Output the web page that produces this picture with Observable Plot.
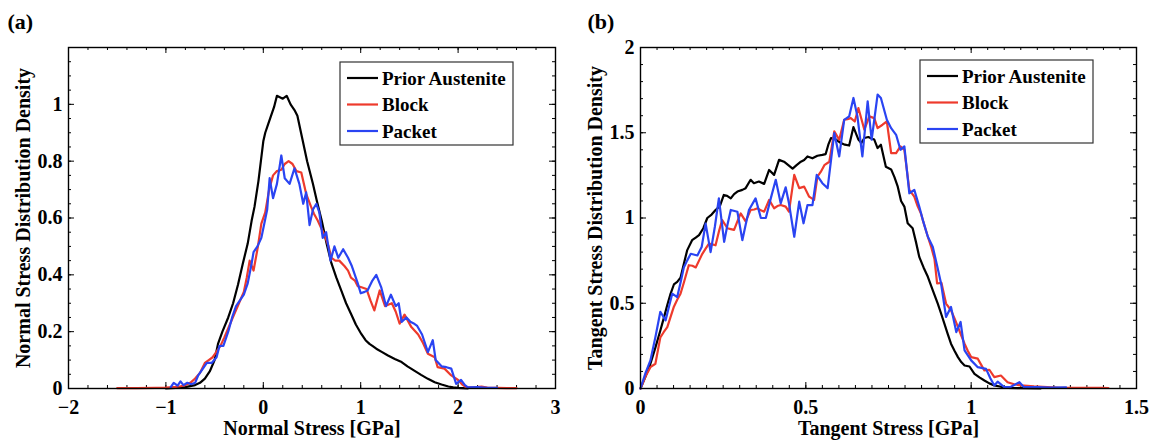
<!DOCTYPE html>
<html>
<head>
<meta charset="utf-8">
<script src="https://cdn.jsdelivr.net/npm/d3@7"></script>
<script src="https://cdn.jsdelivr.net/npm/@observablehq/plot@0.6"></script>
<style>
  html, body { margin: 0; padding: 0; background: #fff; }
  #charts { display: flex; width: 1153px; height: 442px; overflow: hidden; }
</style>
</head>
<body>
<div id="charts"></div>
<script>
// Legend entries and line colours shared by both panels
const seriesNames = ["Prior Austenite", "Block", "Packet"];
const seriesColors = ["#000000", "#ee3a2c", "#2a44f2"];

// (a) normal stress distribution density, [stress GPa, density]
const normalPrior = [[-1.0,0],[-0.9,0.002],[-0.8,0.005],[-0.7,0.012],[-0.65,0.02],[-0.6,0.035],[-0.55,0.06],[-0.5,0.1],[-0.465,0.157],[-0.42,0.2],[-0.36,0.25],[-0.31,0.3],[-0.26,0.365],[-0.21,0.44],[-0.16,0.51],[-0.12,0.59],[-0.09,0.64],[-0.05,0.73],[0.0,0.87],[0.02,0.9],[0.05,0.93],[0.08,0.96],[0.11,0.99],[0.14,1.03],[0.17,1.025],[0.2,1.02],[0.24,1.03],[0.28,1.0],[0.32,0.98],[0.35,0.96],[0.4,0.88],[0.45,0.8],[0.51,0.72],[0.55,0.66],[0.6,0.59],[0.65,0.51],[0.7,0.44],[0.75,0.39],[0.8,0.345],[0.85,0.3],[0.9,0.263],[0.95,0.225],[1.006,0.192],[1.05,0.17],[1.09,0.157],[1.12,0.15],[1.16,0.14],[1.22,0.128],[1.28,0.116],[1.35,0.104],[1.42,0.093],[1.48,0.078],[1.55,0.063],[1.62,0.048],[1.69,0.034],[1.76,0.022],[1.83,0.014],[1.9,0.007],[1.95,0.004],[2.0,0.002],[2.05,0.001],[2.1,0]];
const normalBlock = [[-1.5,0.001],[-1.3,0.001],[-1.1,0.002],[-1.0,0.003],[-0.9,0.006],[-0.85,0.008],[-0.8,0.012],[-0.75,0.02],[-0.7,0.035],[-0.65,0.055],[-0.6,0.09],[-0.56,0.1],[-0.52,0.11],[-0.48,0.13],[-0.44,0.15],[-0.4,0.18],[-0.35,0.22],[-0.3,0.26],[-0.25,0.3],[-0.2,0.34],[-0.17,0.39],[-0.14,0.45],[-0.1,0.415],[-0.055,0.5],[-0.02,0.58],[0.02,0.62],[0.06,0.7],[0.1,0.75],[0.14,0.765],[0.185,0.77],[0.22,0.79],[0.26,0.8],[0.3,0.79],[0.34,0.765],[0.39,0.76],[0.44,0.685],[0.49,0.64],[0.52,0.615],[0.56,0.59],[0.6,0.56],[0.63,0.54],[0.67,0.5],[0.7,0.46],[0.74,0.45],[0.78,0.45],[0.835,0.43],[0.87,0.415],[0.9,0.39],[0.94,0.38],[0.97,0.36],[1.0,0.357],[1.06,0.35],[1.1,0.31],[1.14,0.275],[1.195,0.345],[1.25,0.29],[1.32,0.3],[1.36,0.27],[1.4,0.228],[1.45,0.26],[1.52,0.216],[1.59,0.19],[1.64,0.16],[1.69,0.122],[1.76,0.11],[1.79,0.075],[1.86,0.07],[1.93,0.046],[2.0,0.03],[2.04,0.015],[2.08,0.005],[2.16,0.004],[2.24,0.007],[2.3,0.003],[2.4,0.002],[2.5,0.001],[2.6,0.001]];
const normalPacket = [[-0.95,0.005],[-0.92,0.02],[-0.88,0.01],[-0.85,0.025],[-0.82,0.012],[-0.78,0.02],[-0.74,0.015],[-0.7,0.02],[-0.67,0.045],[-0.62,0.07],[-0.58,0.09],[-0.53,0.09],[-0.48,0.11],[-0.45,0.15],[-0.41,0.15],[-0.36,0.2],[-0.32,0.25],[-0.28,0.29],[-0.24,0.31],[-0.2,0.33],[-0.16,0.37],[-0.12,0.44],[-0.1,0.48],[-0.06,0.5],[-0.02,0.53],[0.01,0.58],[0.04,0.63],[0.065,0.74],[0.1,0.67],[0.14,0.72],[0.185,0.82],[0.22,0.74],[0.27,0.72],[0.32,0.775],[0.37,0.72],[0.41,0.65],[0.44,0.69],[0.475,0.575],[0.51,0.63],[0.545,0.65],[0.575,0.62],[0.61,0.53],[0.645,0.55],[0.69,0.45],[0.73,0.5],[0.77,0.46],[0.82,0.49],[0.87,0.46],[0.91,0.43],[0.94,0.4],[0.97,0.37],[1.0,0.335],[1.04,0.34],[1.07,0.345],[1.12,0.38],[1.16,0.4],[1.21,0.357],[1.26,0.29],[1.31,0.33],[1.36,0.29],[1.39,0.3],[1.42,0.234],[1.47,0.25],[1.51,0.235],[1.54,0.23],[1.58,0.22],[1.63,0.19],[1.69,0.128],[1.74,0.17],[1.77,0.1],[1.83,0.078],[1.88,0.075],[1.93,0.07],[1.98,0.016],[2.03,0.03],[2.07,0.012],[2.1,0.004],[2.2,0.005],[2.3,0.002],[2.4,0.002]];

// (b) tangent stress distribution density, [stress GPa, density]
const tangentPrior = [[0,0],[0.015,0.07],[0.03,0.145],[0.045,0.24],[0.06,0.34],[0.07,0.41],[0.081,0.49],[0.09,0.55],[0.101,0.61],[0.111,0.625],[0.121,0.65],[0.131,0.73],[0.141,0.81],[0.156,0.87],[0.167,0.885],[0.177,0.9],[0.19,0.94],[0.202,1.0],[0.215,1.02],[0.227,1.047],[0.24,1.07],[0.252,1.135],[0.262,1.13],[0.273,1.115],[0.283,1.14],[0.293,1.155],[0.308,1.165],[0.318,1.175],[0.333,1.224],[0.343,1.204],[0.358,1.214],[0.374,1.2],[0.389,1.282],[0.404,1.253],[0.419,1.341],[0.434,1.33],[0.447,1.31],[0.46,1.29],[0.472,1.31],[0.485,1.33],[0.495,1.34],[0.505,1.361],[0.52,1.35],[0.535,1.365],[0.55,1.37],[0.56,1.375],[0.568,1.43],[0.576,1.469],[0.591,1.46],[0.606,1.44],[0.618,1.43],[0.631,1.425],[0.644,1.533],[0.659,1.46],[0.668,1.44],[0.677,1.469],[0.689,1.475],[0.7,1.465],[0.707,1.46],[0.717,1.41],[0.727,1.43],[0.742,1.3],[0.758,1.285],[0.768,1.24],[0.778,1.184],[0.788,1.1],[0.798,1.067],[0.808,0.969],[0.823,0.94],[0.833,0.86],[0.843,0.772],[0.856,0.71],[0.869,0.655],[0.884,0.575],[0.899,0.498],[0.909,0.44],[0.919,0.38],[0.929,0.32],[0.939,0.263],[0.95,0.22],[0.96,0.184],[0.97,0.155],[0.98,0.135],[0.995,0.129],[1.01,0.086],[1.025,0.065],[1.04,0.047],[1.055,0.03],[1.07,0.018],[1.09,0.01],[1.11,0.004],[1.15,0.002],[1.21,0]];
const tangentBlock = [[0,0],[0.015,0.07],[0.03,0.125],[0.045,0.145],[0.06,0.3],[0.07,0.33],[0.081,0.36],[0.091,0.42],[0.101,0.48],[0.111,0.52],[0.121,0.556],[0.131,0.62],[0.146,0.723],[0.157,0.72],[0.167,0.71],[0.177,0.75],[0.187,0.79],[0.197,0.82],[0.207,0.85],[0.217,0.845],[0.227,0.84],[0.237,0.92],[0.247,0.988],[0.263,0.94],[0.273,0.935],[0.283,0.93],[0.293,0.98],[0.303,1.027],[0.318,0.98],[0.333,1.047],[0.344,1.05],[0.354,1.057],[0.364,1.045],[0.374,1.037],[0.389,1.106],[0.404,1.057],[0.414,1.07],[0.424,1.076],[0.439,1.067],[0.449,1.037],[0.465,1.253],[0.48,1.175],[0.495,1.184],[0.51,1.125],[0.525,1.106],[0.535,1.243],[0.545,1.27],[0.556,1.31],[0.571,1.33],[0.586,1.508],[0.601,1.459],[0.616,1.576],[0.626,1.58],[0.636,1.586],[0.648,1.566],[0.659,1.645],[0.677,1.518],[0.692,1.596],[0.707,1.586],[0.717,1.527],[0.732,1.547],[0.745,1.566],[0.758,1.38],[0.773,1.38],[0.786,1.42],[0.798,1.4],[0.813,1.165],[0.828,1.125],[0.838,1.07],[0.848,1.027],[0.858,0.96],[0.869,0.89],[0.879,0.831],[0.889,0.76],[0.897,0.616],[0.91,0.62],[0.924,0.498],[0.939,0.459],[0.95,0.41],[0.96,0.361],[0.97,0.31],[0.98,0.263],[0.99,0.22],[1.0,0.184],[1.01,0.18],[1.02,0.175],[1.03,0.14],[1.04,0.106],[1.055,0.11],[1.07,0.067],[1.09,0.076],[1.11,0.037],[1.13,0.025],[1.15,0.018],[1.19,0.012],[1.23,0.008],[1.27,0.004],[1.33,0.004],[1.394,0.004],[1.415,0.003]];
const tangentPacket = [[0,0],[0.015,0.09],[0.03,0.165],[0.045,0.3],[0.06,0.45],[0.076,0.4],[0.086,0.48],[0.096,0.556],[0.111,0.536],[0.121,0.62],[0.131,0.71],[0.141,0.75],[0.152,0.79],[0.172,0.78],[0.185,0.83],[0.197,0.967],[0.212,0.8],[0.225,0.95],[0.237,1.115],[0.253,0.86],[0.263,0.96],[0.273,1.047],[0.293,1.037],[0.308,0.87],[0.318,0.96],[0.328,1.047],[0.348,1.115],[0.364,1.0],[0.379,1.0],[0.394,1.115],[0.409,1.224],[0.424,1.086],[0.439,1.18],[0.449,1.086],[0.465,0.89],[0.48,1.096],[0.493,0.969],[0.505,1.076],[0.52,1.076],[0.533,1.253],[0.55,1.204],[0.566,1.175],[0.586,1.498],[0.601,1.361],[0.616,1.576],[0.631,1.596],[0.644,1.704],[0.656,1.596],[0.671,1.361],[0.687,1.684],[0.699,1.459],[0.717,1.724],[0.727,1.704],[0.745,1.576],[0.758,1.527],[0.773,1.488],[0.786,1.4],[0.798,1.42],[0.813,1.145],[0.828,1.165],[0.843,1.067],[0.855,0.98],[0.869,0.89],[0.884,0.83],[0.897,0.72],[0.909,0.616],[0.924,0.42],[0.939,0.478],[0.955,0.331],[0.968,0.39],[0.98,0.224],[1.0,0.165],[1.02,0.125],[1.045,0.115],[1.058,0.06],[1.07,0.018],[1.08,0.04],[1.1,0.008],[1.12,0.01],[1.146,0.037],[1.16,0.008],[1.2,0.008],[1.24,0.006],[1.287,0.007]];

// Axis ticks
const normalXTicks = [-2, -1, 0, 1, 2, 3];
const normalYTicks = [0, 0.2, 0.4, 0.6, 0.8, 1];
const tangentXTicks = [0, 0.5, 1, 1.5];
const tangentYTicks = [0, 0.5, 1, 1.5, 2];

const FONT = "'Liberation Serif', 'Times New Roman', serif";
const H = 442, MT = 47, MB = 54;
const fmt = d => (d < 0 ? "\u2212" + Math.abs(d) : String(d));
const steps = (a, b, s) => d3.range(Math.round((b - a) / s) + 1).map(i => +(a + i * s).toFixed(4));

function panel(o) {
  const fw = o.width - o.marginLeft - o.marginRight;
  const fh = H - MT - MB;
  const xMinor = steps(o.xDomain[0], o.xDomain[1], o.xMinorStep);
  const yMinor = steps(o.yDomain[0], o.yDomain[1], o.yMinorStep);
  const tick = {stroke: "#000", strokeWidth: 1};
  const label = {fontSize: 20, fontWeight: "bold", fontFamily: FONT, textAnchor: "middle", lineAnchor: "middle"};
  const svg = Plot.plot({
    width: o.width, height: H,
    marginLeft: o.marginLeft, marginRight: o.marginRight, marginTop: MT, marginBottom: MB,
    style: {fontFamily: FONT, fontWeight: "bold", fontSize: "20px", color: "#000", background: "#fff"},
    x: {domain: o.xDomain},
    y: {domain: o.yDomain},
    marks: [
      // inward ticks on all four sides
      Plot.ruleX(xMinor, {...tick, insetTop: fh - 3}),
      Plot.ruleX(xMinor, {...tick, insetBottom: fh - 3}),
      Plot.ruleX(o.xTicks, {...tick, insetTop: fh - 6}),
      Plot.ruleX(o.xTicks, {...tick, insetBottom: fh - 6}),
      Plot.ruleY(yMinor, {...tick, insetRight: fw - 3}),
      Plot.ruleY(yMinor, {...tick, insetLeft: fw - 3}),
      Plot.ruleY(o.yTicks, {...tick, insetRight: fw - 6}),
      Plot.ruleY(o.yTicks, {...tick, insetLeft: fw - 6}),
      Plot.axisX(o.xTicks, {tickSize: 0, tickPadding: 11, tickFormat: fmt, fontSize: 20, fontWeight: "bold", label: null}),
      Plot.axisY(o.yTicks, {tickSize: 0, tickPadding: 6, tickFormat: fmt, fontSize: 20, fontWeight: "bold", label: null}),
      ...o.series.map((s, i) => Plot.line(s, {
        x: d => d[0], y: d => d[1], stroke: seriesColors[i], strokeWidth: 2.2, strokeLinejoin: "round"
      })),
      Plot.frame({stroke: "#000", strokeWidth: 1.4}),
      Plot.text([o.xLabel], {...label, frameAnchor: "bottom", dy: 40}),
      Plot.text([o.yLabel], {...label, frameAnchor: "left", dx: -45, rotate: -90}),
      Plot.text([o.tag], {...label, frameAnchor: "top-left", dx: o.tagDx, dy: -26, textAnchor: "start", fontSize: 22})
    ]
  });

  // legend box in the upper right of the frame
  const lw = 173, lh = 83;
  const lx = o.width - o.marginRight - o.legendRight - lw;
  const ly = MT + o.legendTop;
  const g = d3.select(svg).append("g").attr("transform", `translate(${lx},${ly})`);
  g.append("rect").attr("width", lw).attr("height", lh)
    .attr("fill", "#fff").attr("stroke", "#333").attr("stroke-width", 1.2);
  seriesNames.forEach((name, i) => {
    const ry = 16 + i * 26.5;
    g.append("line").attr("x1", 7).attr("x2", 38).attr("y1", ry).attr("y2", ry)
      .attr("stroke", seriesColors[i]).attr("stroke-width", 2.2);
    g.append("text").attr("x", 42).attr("y", ry).attr("dy", "0.35em")
      .attr("text-anchor", "start")
      .attr("font-family", FONT).attr("font-weight", "bold").attr("font-size", 19)
      .attr("fill", "#000").text(name);
  });
  return svg;
}

const root = document.getElementById("charts");
root.append(panel({
  width: 580, marginLeft: 68, marginRight: 25,
  xDomain: [-2, 3], yDomain: [0, 1.2], xMinorStep: 0.2, yMinorStep: 0.05,
  xTicks: normalXTicks, yTicks: normalYTicks,
  series: [normalPrior, normalBlock, normalPacket],
  xLabel: "Normal Stress [GPa]", yLabel: "Normal Stress Distribution Density",
  tag: "(a)", tagDx: -61, legendRight: 42, legendTop: 15
}));
root.append(panel({
  width: 573, marginLeft: 60, marginRight: 17,
  xDomain: [0, 1.5], yDomain: [0, 2], xMinorStep: 0.05, yMinorStep: 0.1,
  xTicks: tangentXTicks, yTicks: tangentYTicks,
  series: [tangentPrior, tangentBlock, tangentPacket],
  xLabel: "Tangent Stress [GPa]", yLabel: "Tangent Stress Distribution Density",
  tag: "(b)", tagDx: -53, legendRight: 43, legendTop: 13
}));
</script>
</body>
</html>
